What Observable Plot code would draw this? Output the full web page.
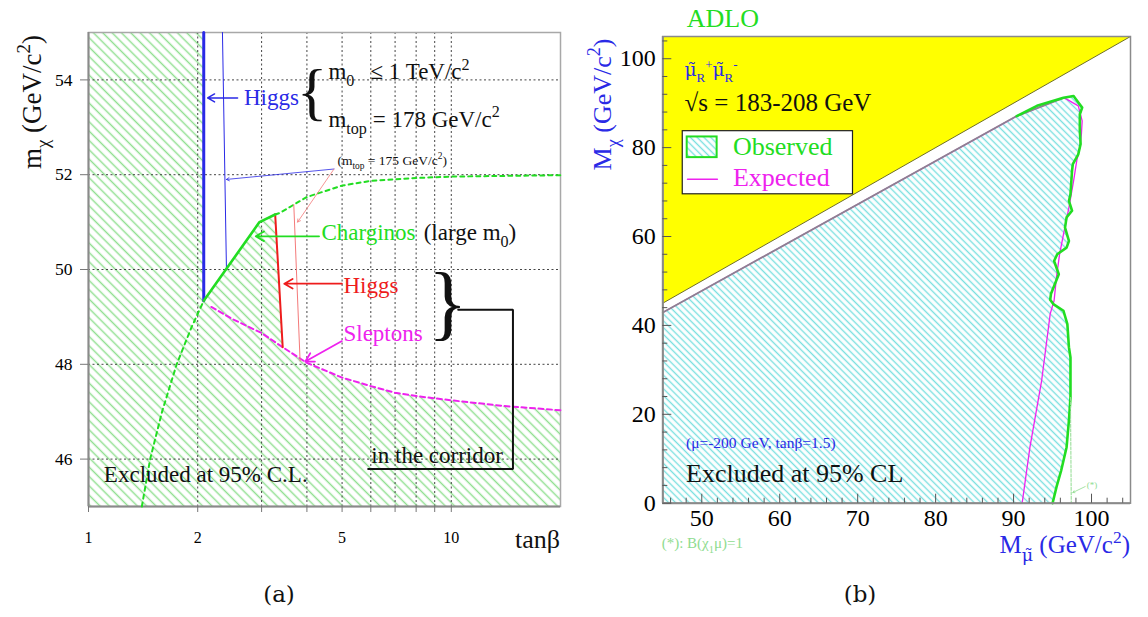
<!DOCTYPE html>
<html>
<head>
<meta charset="utf-8">
<script src="https://cdn.jsdelivr.net/npm/d3@7"></script>
<script src="https://cdn.jsdelivr.net/npm/@observablehq/plot@0.6"></script>
<style>
  html, body { margin: 0; padding: 0; background: #fff; }
  #figure { position: relative; width: 1148px; height: 617px; overflow: hidden; }
  #figure svg { position: absolute; top: 0; max-width: none; }
</style>
</head>
<body>
<div id="figure"></div>
<script>
// ---------- Panel (a): tanβ vs m_χ (GeV/c²) ----------
const higgs178 = [[2.078, 55], [2.078, 49.34]];
const higgs175 = [[2.34, 55], [2.40, 50.02]];
const charginoSolid = [[2.078, 49.34], [2.96, 51.0], [3.27, 51.16]];
const charginoLargeM0 = [[3.27, 51.16], [3.36, 51.19], [4, 51.53], [5, 51.77], [6, 51.87], [8, 51.93], [10, 51.96], [20, 51.99]];
const charginoLow = [[1.403, 45.0], [1.479, 46.0], [1.595, 47.0], [1.75, 48.0], [1.92, 48.77], [2.078, 49.34]];
const higgsRed178 = [[3.27, 51.16], [3.35, 49.75], [3.43, 48.36]];
const higgsRed175 = [[3.68, 51.37], [3.83, 48.07]];
const sleptons = [[2.18, 49.21], [2.5, 48.95], [3, 48.66], [3.43, 48.36], [4, 48.03], [5, 47.72], [6, 47.54], [7, 47.40], [8, 47.33], [10, 47.24], [14, 47.12], [20, 47.03]];
const gridXA = [2, 3, 4, 5, 6, 7, 8, 9, 10];
const gridYA = [46, 48, 50, 52, 54];
const tickXA = [1, 2, 3, 4, 5, 6, 7, 8, 9, 10];
const labelXA = [1, 2, 5, 10];
const tickYA = [46, 48, 50, 52, 54];

// ---------- Panel (b): smuon mass vs neutralino mass ----------
const kinematicLimit = [[45, 45], [105, 105]];
const topEdge = [[45, 42.9], [90.4, 87.1], [96.4, 91.2]];
const observed = [
  [90.4, 87.1], [93.0, 89.4], [96.4, 91.2], [97.7, 91.6], [98.0, 90.9], [98.8, 89.0], [98.5, 87.5],
  [98.5, 83.8], [98.6, 80.8], [98.3, 78.5], [97.6, 76.3], [97.5, 74.8], [97.3, 69.5], [97.1, 68.0],
  [97.5, 65.8], [96.8, 64.3], [96.6, 62.0], [97.1, 59.0], [96.8, 57.5], [95.6, 56.0], [95.2, 54.5],
  [95.8, 51.5], [95.3, 49.3], [94.8, 47.1], [94.7, 45.8], [95.1, 44.8], [96.4, 43.3], [96.9, 40.3],
  [97.1, 35.1], [97.3, 32.8], [97.3, 23.8], [97.1, 18.6], [96.8, 12.6], [96.1, 7.3], [95.5, 3.6], [95.0, 0]
];
const expected = [
  [45, 42.9], [90.4, 87.1], [96.4, 91.2], [96.8, 90.9], [98.3, 89.4], [98.8, 86.0], [98.7, 83.0],
  [98.5, 80.0], [98.1, 77.0], [97.7, 72.5], [97.1, 66.5], [96.4, 60.5], [95.9, 56.0], [95.5, 50.8],
  [95.2, 45.6], [94.7, 42.6], [93.6, 27.6], [92.1, 12.6], [91.1, 0]
];
const bMuOne = [[97.3, 23.8], [97.35, 12], [97.4, 0]];
const tickXB = [50, 60, 70, 80, 90, 100];
const tickYB = [0, 20, 40, 60, 80, 100];
const minorXB = d3.range(46, 105, 2).filter(v => v % 10 !== 0);
const minorYB = d3.range(4, 105, 4).filter(v => v % 20 !== 0);

// ---------- styling ----------
const serif = "'Liberation Serif', 'DejaVu Serif', serif";
const blue = "#2a2ae6", green = "#22dd22", red = "#ee1c1c", magenta = "#ee22ee";
const NS = "http://www.w3.org/2000/svg";
const xy = {x: d => d[0], y: d => d[1]};

// Text with _{sub} and ^{sup} runs; runs holding a combining tilde use a font with mark positioning.
function appendRuns(text, str, size) {
  const re = /([_^])\{([^}]*)\}|([^_^]+)/g;
  let m, shift = 0;
  while ((m = re.exec(str))) {
    const ts = document.createElementNS(NS, "tspan");
    let content;
    if (m[1]) {
      const target = m[1] === "_" ? 0.3 * size : -0.42 * size;
      ts.setAttribute("dy", target - shift);
      shift = target;
      ts.setAttribute("font-size", 0.7 * size);
      content = m[2];
    } else {
      ts.setAttribute("dy", -shift);
      shift = 0;
      content = m[3];
    }
    if (content.includes("\u0303")) ts.setAttribute("font-family", "'DejaVu Serif', serif");
    ts.textContent = content;
    text.appendChild(ts);
  }
}
function richText(items) {
  return (index, scales) => {
    const g = document.createElementNS(NS, "g");
    for (const it of items) {
      const x = it.px ?? scales.x(it.x);
      const y = it.py ?? scales.y(it.y);
      const size = it.size ?? 23;
      const t = document.createElementNS(NS, "text");
      t.setAttribute("transform", `translate(${x},${y})` + (it.rotate ? ` rotate(${it.rotate})` : ""));
      t.setAttribute("font-size", size);
      t.setAttribute("font-family", it.family ?? serif);
      t.setAttribute("fill", it.fill ?? "#111");
      t.setAttribute("text-anchor", it.anchor ?? "start");
      t.setAttribute("style", "white-space: pre");
      appendRuns(t, it.text, size);
      g.appendChild(t);
    }
    return g;
  };
}
function addHatch(svg, id, color, gap, width) {
  const defs = d3.select(svg).insert("defs", ":first-child");
  const p = defs.append("pattern").attr("id", id).attr("patternUnits", "userSpaceOnUse")
    .attr("width", gap).attr("height", gap).attr("patternTransform", "rotate(-45)");
  p.append("line").attr("x1", gap / 2).attr("x2", gap / 2).attr("y1", -1).attr("y2", gap + 1)
    .attr("stroke", color).attr("stroke-width", width);
}

// excluded region of panel (a): left of the Higgs line, below charginos/Higgs/sleptons
const excludedA = [[1, 45], [1, 55], ...higgs178, ...charginoSolid.slice(1), ...higgsRed178.slice(1),
  ...sleptons.filter(d => d[0] > 3.43), [20, 45]];

const plotA = Plot.plot({
  width: 570, height: 617,
  marginLeft: 88, marginRight: 10, marginTop: 32, marginBottom: 111,
  x: {type: "log", domain: [1, 20]},
  y: {domain: [45, 55]},
  style: {fontFamily: serif, overflow: "visible", background: "transparent"},
  marks: [
    Plot.line(excludedA, {...xy, fill: "url(#hatchA)", stroke: "none"}),
    Plot.ruleX(gridXA, {stroke: "#444", strokeWidth: 1, strokeDasharray: "2,2.5"}),
    Plot.ruleY(gridYA, {stroke: "#444", strokeWidth: 1, strokeDasharray: "2,2.5"}),
    Plot.frame({stroke: "#a8a8a8", strokeWidth: 1.5}),
    Plot.ruleX([1], {stroke: "#8a8a8a", strokeWidth: 2}),
    Plot.ruleY([45], {stroke: "#8a8a8a", strokeWidth: 2}),
    Plot.axisY({ticks: tickYA, tickSize: 8, tickPadding: 8, fontSize: 17.5, stroke: "#777", label: null}),
    Plot.axisX({ticks: tickXA, tickSize: 6, tickPadding: 19, fontSize: 16, stroke: "#777", label: null,
      tickFormat: d => labelXA.includes(d) ? String(d) : ""}),
    Plot.line(charginoLow, {...xy, stroke: green, strokeWidth: 2, strokeDasharray: "4,4"}),
    Plot.line(charginoLargeM0, {...xy, stroke: green, strokeWidth: 2, strokeDasharray: "4,4"}),
    Plot.line(sleptons, {...xy, stroke: magenta, strokeWidth: 2, strokeDasharray: "5,3.5"}),
    Plot.line(higgsRed175, {...xy, stroke: "#f47a7a", strokeWidth: 1}),
    Plot.line(higgsRed178, {...xy, stroke: red, strokeWidth: 2}),
    Plot.line(higgs175, {...xy, stroke: blue, strokeWidth: 1}),
    Plot.line(higgs178, {...xy, stroke: blue, strokeWidth: 3}),
    Plot.line(charginoSolid, {...xy, stroke: green, strokeWidth: 2.6}),
    // pointers to the curves
    Plot.arrow([0], {x1: 2.576, y1: 53.62, x2: 2.13, y2: 53.62, stroke: blue, strokeWidth: 1.5, headLength: 8}),
    Plot.arrow([0], {x1: 4.75, y1: 52.12, x2: 2.40, y2: 51.90, stroke: blue, strokeWidth: 0.8, headLength: 6}),
    Plot.arrow([0], {x1: 4.75, y1: 52.12, x2: 3.77, y2: 51.0, stroke: "#f47a7a", strokeWidth: 0.8, headLength: 6}),
    Plot.arrow([0], {x1: 4.32, y1: 50.7, x2: 2.89, y2: 50.7, stroke: green, strokeWidth: 1.8, headLength: 8}),
    Plot.arrow([0], {x1: 4.995, y1: 49.70, x2: 3.465, y2: 49.70, stroke: red, strokeWidth: 1.8, headLength: 8}),
    Plot.arrow([0], {x1: 4.995, y1: 48.49, x2: 3.96, y2: 48.06, stroke: magenta, strokeWidth: 1.8, headLength: 8}),
    // connector from the brace to "in the corridor"
    Plot.line([[10.45, 49.15], [14.79, 49.15], [14.79, 45.79], [5.90, 45.79]], {...xy, stroke: "#111", strokeWidth: 2, strokeLinejoin: "miter"}),
    richText([
      {x: 2.69, y: 53.47, text: "Higgs", fill: blue},
      {x: 3.76, y: 53.30, text: "{", size: 64},
      {x: 4.60, y: 54.0, text: "m_{0}\u2002\u2009≤ 1 TeV/c^{2}"},
      {x: 4.60, y: 53.0, text: "m_{top} = 178 GeV/c^{2}"},
      {x: 4.87, y: 52.2, text: "(m_{top} = 175 GeV/c^{2})", size: 13.5},
      {x: 4.40, y: 50.61, text: "Charginos", fill: green},
      {x: 8.42, y: 50.61, text: "(large m_{0})"},
      {x: 5.06, y: 49.50, text: "Higgs", fill: red},
      {x: 5.06, y: 48.48, text: "Sleptons", fill: magenta},
      {x: 8.65, y: 48.72, text: "}", size: 82},
      {x: 6.04, y: 45.91, text: "in the corridor"},
      {x: 1.106, y: 45.50, text: "Excluded at 95% C.L."},
      {px: 41, py: 102, text: "m_{χ} (GeV/c^{2})", size: 27, rotate: -90, anchor: "middle"},
      {px: 560, py: 548, text: "tanβ", size: 26, anchor: "end"},
      {px: 279, py: 602, text: "(a)", size: 23, anchor: "middle", family: "'DejaVu Serif', serif"}
    ])
  ]
});
addHatch(plotA, "hatchA", "#93e093", 6.6, 1.5);

// excluded region of panel (b): bounded by the upper edge and the observed contour
const excludedB = [[45, 0], ...topEdge.slice(0, 2), ...observed.slice(1)];

const plotB = Plot.plot({
  width: 578, height: 617,
  marginLeft: 92.3, marginRight: 18, marginTop: 36, marginBottom: 114.3,
  x: {domain: [45, 105]},
  y: {domain: [0, 105]},
  style: {fontFamily: serif, overflow: "visible", background: "transparent"},
  marks: [
    Plot.line([...kinematicLimit, [45, 105]], {...xy, fill: "#ffff00", stroke: "none"}),
    Plot.line(kinematicLimit, {...xy, stroke: "#6e6e2a", strokeWidth: 1}),
    Plot.line(excludedB, {...xy, fill: "url(#hatchB)", stroke: "none"}),
    Plot.line(expected, {...xy, stroke: magenta, strokeWidth: 1.3}),
    Plot.line(topEdge, {...xy, stroke: "#8c8490", strokeWidth: 1.8}),
    Plot.line(observed, {...xy, stroke: green, strokeWidth: 2.6}),
    Plot.line(bMuOne, {...xy, stroke: "#8fdc8f", strokeWidth: 1, strokeDasharray: "3,1.5"}),
    Plot.frame({stroke: "#8a8a8a", strokeWidth: 1.5}),
    Plot.ruleX([45], {stroke: "#8a8a8a", strokeWidth: 2}),
    Plot.ruleY([0], {stroke: "#8a8a8a", strokeWidth: 2}),
    Plot.ruleX(tickXB, {x: d => d, insetTop: 466.7 - 9, stroke: "#555"}),
    Plot.ruleX(minorXB, {x: d => d, insetTop: 466.7 - 5, stroke: "#555"}),
    Plot.ruleY(tickYB, {y: d => d, insetRight: 467.7 - 9, stroke: "#555"}),
    Plot.ruleY(minorYB, {y: d => d, insetRight: 467.7 - 5, stroke: "#555"}),
    Plot.axisY({ticks: tickYB, tickSize: 0, tickPadding: 7, fontSize: 24, label: null}),
    Plot.axisX({ticks: tickXB, tickSize: 0, tickPadding: 6, fontSize: 24, label: null}),
    // legend
    Plot.rect([0], {x1: 47.56, x2: 69.4, y1: 69.5, y2: 83.7, fill: "white", stroke: "#222", strokeWidth: 1.2}),
    Plot.rect([0], {x1: 48.13, x2: 51.97, y1: 77.75, y2: 82.4, fill: "url(#hatchB)", stroke: green, strokeWidth: 2}),
    Plot.line([[48.17, 72.9], [52, 72.9]], {...xy, stroke: magenta, strokeWidth: 1.5}),
    Plot.arrow([0], {x1: 99.19, y1: 3.75, x2: 97.6, y2: 2.4, stroke: "#8fdc8f", strokeWidth: 0.8, headLength: 4}),
    richText([
      {x: 48.13, y: 106.97, text: "ADLO", fill: green, size: 26},
      {x: 47.86, y: 95.9, text: "μ\u0303_{R}^{+}μ\u0303_{R}^{-}", fill: blue, size: 18.5},
      {x: 47.86, y: 88.2, text: "√s = 183-208 GeV", size: 25},
      {x: 54.06, y: 78.13, text: "Observed", fill: green, size: 26},
      {x: 54.06, y: 71.35, text: "Expected", fill: magenta, size: 26},
      {x: 48.04, y: 12.2, text: "(μ=-200 GeV, tanβ=1.5)", fill: blue, size: 15.5},
      {x: 48.04, y: 4.72, text: "Excluded at 95% CL", size: 26},
      {x: 99.45, y: 3.3, text: "(*)", fill: "#8fdc8f", size: 9},
      {x: 44.92, y: -10.25, text: "(*): B(χ_{1}μ)=1", fill: "#8fdc8f", size: 15},
      {x: 105, y: -11.4, text: "M_{μ\u0303} (GeV/c^{2})", fill: blue, size: 25, anchor: "end"},
      {px: 41, py: 104.5, text: "M_{χ} (GeV/c^{2})", fill: blue, size: 26, rotate: -90, anchor: "middle"},
      {px: 290, py: 602, text: "(b)", size: 23, anchor: "middle", family: "'DejaVu Serif', serif"}
    ])
  ]
});
addHatch(plotB, "hatchB", "#7ae0e0", 4.8, 1.4);

const fig = document.getElementById("figure");
plotA.style.left = "0px";
plotB.style.left = "570px";
fig.appendChild(plotA);
fig.appendChild(plotB);
</script>
</body>
</html>
